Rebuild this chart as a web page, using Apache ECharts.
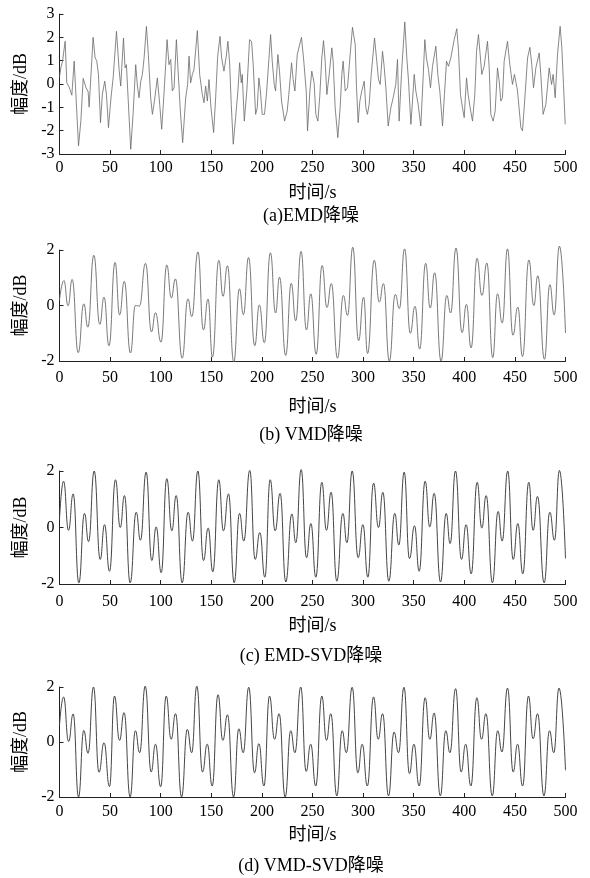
<!DOCTYPE html>
<html>
<head>
<meta charset="utf-8">
<script src="https://cdn.jsdelivr.net/npm/echarts@6/dist/echarts.min.js"></script>
<style>html,body{margin:0;padding:0;background:#fff}#c{width:590px;height:878px}</style>
</head>
<body>
<div id="c"></div>
<script>
// ---- data ----
const xTicks = [0, 50, 100, 150, 200, 250, 300, 350, 400, 450, 500];

// (a) EMD denoising (noisy trace)
const tA = [0,1.3,3,5.6,7.2,9.5,11.2,12.2,14.5,18.8,21.1,23.4,26,28.3,29.3,33.2,35.2,36.8,38.5,40.5,42.4,44.7,46.4,48.4,50,51.3,53,56.3,58.9,60.5,63.2,64.8,66.1,70.4,72.7,75.3,77,78.6,80.3,81.9,83.6,85.9,87.8,90.1,91.8,93.8,96.7,99,101,103,104.9,106.3,108.2,109.9,111.5,113.2,115.5,117.4,119.4,121.7,123.4,124.7,126.6,128,129.6,131.3,132.9,136.2,138.5,141.1,142.8,144.4,146.1,147.7,149.7,152.3,154.3,156.3,158.6,160.2,162.5,164.8,166.4,168.1,169.7,171.7,174,176.3,178,179.6,180.6,182.6,185.2,187.8,189.8,191.4,193.8,195.4,197,198.4,200.3,202.6,204.6,206.9,208.6,210.2,212.2,213.5,215.8,217.4,219.4,222.4,225,226.6,229.3,230.9,232.6,234.9,239.1,241.4,243.8,245.1,247.4,249.3,251.6,253.3,255.3,257.2,259.2,260.9,262.5,264.2,266.5,269.1,270.4,272.4,275,277.3,279,280.3,282.3,284.6,287.2,289.5,292.2,293.5,295.1,296.8,298.7,301.1,302.7,304.3,306,308,311.3,313.2,315.2,316.9,319.2,320.8,322.5,324.8,327.4,329.7,332.3,334,335.6,337.9,341.2,343.2,344.9,347.2,348.8,350.5,352.1,354.4,357,358.7,361,362.6,364.6,366.6,368.6,371.9,373.8,375.8,378.5,380.4,382.4,384.4,386.7,390,392.6,394.3,396.2,398.2,399.9,402.2,403.8,405.8,408.1,410.4,412.1,414,415.4,417.3,419.6,422.9,424.6,426.2,428.5,430.5,432.8,434.5,436.1,437.7,439.4,442.7,445,447.6,449.6,452.6,455.9,457.5,460.1,462.5,464.8,466.7,468.4,470.7,474,475.6,477.9,480.6,483.9,486.2,487.8,489.8,492.1,494.7,496.4,498,499.7];
const yA = [0.3,0.69,0.98,1.83,0.05,-0.13,-0.16,-0.48,0.98,-2.65,-1.59,0.24,-0.13,-0.33,-0.99,2.0,1.12,1.0,0.41,-1.66,-0.42,0.12,-0.45,-1.87,-1.02,-0.42,0.26,2.26,0.62,-0.09,1.97,0.69,0.83,-2.8,-1.3,0.83,-0.09,-0.59,0.12,0.41,1.12,2.47,1.26,-0.59,-1.3,-0.73,0.26,-0.87,-1.94,-0.59,0.83,1.9,0.83,1.05,-0.3,-0.16,1.9,0.41,-1.16,-2.51,-1.44,-0.59,-0.02,1.19,0.05,0.41,0.62,2.29,0.41,-0.45,-0.8,-0.09,-0.73,0.19,-1.02,-2.08,-0.59,1.19,2.04,1.12,0.55,1.19,1.83,0.91,-0.87,-2.58,-1.44,-0.3,0.91,0.05,0.41,-1.59,-0.23,1.9,1.83,0.83,-1.3,-1.02,0.26,-0.23,-1.3,-1.3,-0.38,1.05,2.12,0.98,-0.02,-0.3,1.26,0.55,-0.73,-1.59,-1.16,-0.45,0.91,0.19,-0.3,1.26,2.0,0.98,-0.3,-2.01,-0.3,0.55,0.05,-1.3,-1.59,-0.52,1.12,1.86,0.98,-0.45,0.41,1.55,0.98,-1.02,-2.3,-1.02,0.41,0.98,-0.3,-0.16,1.26,2.43,1.69,-0.16,-1.66,-0.73,-0.3,0.12,-1.02,-1.3,-0.87,0.41,1.97,1.12,0.19,-0.02,1.4,0.76,-0.16,-1.8,-1.02,-0.59,-0.02,1.05,-1.59,0.41,2.66,1.12,0.12,-1.73,-0.73,0.41,-0.3,-0.87,-1.8,-0.3,1.9,1.12,0.62,-0.16,0.76,1.62,0.41,-0.3,-1.8,-0.45,0.98,0.76,1.12,1.9,2.37,1.4,-0.45,-1.02,-1.44,0.26,-0.45,-1.02,-1.59,-0.45,1.4,2.12,1.4,0.41,0.76,1.83,0.69,-1.3,-1.59,-1.16,0.69,0.12,-0.73,-0.59,0.98,1.83,0.83,-0.02,0.41,-0.3,-1.87,-2.01,-0.45,1.12,1.57,0.83,-0.16,0.69,1.33,0.41,-1.3,-0.87,0.69,-0.02,0.41,-0.59,1.26,2.47,1.55,-0.02,-1.73];

// (b) VMD denoising (turning points)
const tB = [0,4.3,8.5,12.5,18.5,24,28,33.9,39.8,44,48.9,54.9,59.4,64,70.1,75,79,85,90.9,94.8,100.3,106,110.5,114.5,121.2,126.9,130.7,136.8,142.2,146.8,151.1,157.4,161.6,165.9,172.2,177.8,181.7,186.8,192.9,197.5,202.4,208.4,213.5,217.4,223.5,229,233.4,238.7,244,248.3,253.6,259.5,264.3,268.6,274.7,280.5,284.6,289.8,295.5,300.5,304.4,311,316,320.1,325.9,331.8,335.8,341,346.6,351.3,355.9,361.8,366.3,370.7,377,382.7,386.5,391.8,397.8,402.1,406.7,412.6,417.4,422.3,428.1,432.8,437.5,442.7,448,452.9,457.5,463.8,468.7,472.6,479.2,484.5,488.8,494,500];
const yB = [0.2,0.9,-0.01,0.94,-1.7,0.06,-0.78,1.81,-0.68,0.3,-1.45,1.55,-0.34,0.87,-1.71,0.0,-0.02,1.52,-0.95,-0.26,-1.32,1.46,0.27,0.96,-1.9,0.24,-0.4,1.93,-0.88,0.23,-1.86,1.63,0.33,1.43,-2.03,0.6,-0.33,1.73,-1.45,0.02,-1.34,1.9,-0.27,1.02,-1.8,0.8,-0.55,1.95,-0.88,0.42,-1.76,1.44,-0.07,0.79,-1.9,0.36,-0.36,2.1,-1.27,0.3,-1.73,1.63,0.12,0.79,-2.0,0.4,-0.11,2.04,-1.0,-0.03,-1.57,1.52,-0.09,1.18,-2.0,0.36,-0.27,2.07,-0.98,0.04,-1.53,1.7,0.36,1.53,-1.88,0.42,-0.63,2.04,-1.07,-0.06,-1.84,1.64,0,1.07,-1.94,0.75,-0.34,2.14,-0.99];

// (c) EMD-SVD denoising (turning points)
const tC = [0,4,8.9,13.5,19.1,24.7,28.7,34.3,40.2,44.5,49.4,55.3,60,64.2,69.8,75.8,80,85.6,91.2,95.5,100.5,106,111,115.3,121.2,127.1,131.4,136.7,142.3,146.9,151.5,157.4,162,167,172.6,177.9,182.1,188,193.3,198,202.9,208.2,213.1,218,223.6,229.6,233.5,238.8,244.1,248.4,253.3,259.2,263.8,268.4,274,280,284,289.2,295.1,299.8,304.7,310.3,315.2,319.5,325.4,331.3,335.3,340.6,345.8,350.8,355.4,361.3,365.9,370.2,376.5,382.1,386,391.3,397.2,401.8,406.8,412.7,417.3,421.6,427.8,433.4,437.4,442.9,448.3,452.9,457.8,463.7,468,472.3,478.9,484.5,489.1,494,500];
const yC = [0.3,1.64,-0.1,1.19,-1.96,0.5,-0.5,2.0,-1.13,0.1,-1.55,1.69,0,1.13,-1.96,0.54,-0.45,1.96,-1.17,0.02,-1.6,1.73,-0.12,1.13,-1.96,0.54,-0.48,2.0,-1.17,-0.02,-1.57,1.69,-0.12,1.19,-1.96,0.5,-0.48,2.02,-1.13,-0.18,-1.76,1.69,-0.12,1.21,-1.93,0.48,-0.54,2.05,-1.07,0.14,-1.76,1.6,-0.1,1.25,-1.9,0.5,-0.54,2.0,-1.07,0.1,-1.76,1.57,0,1.25,-1.9,0.5,-0.62,1.96,-1.1,0.06,-1.55,1.64,0.02,1.21,-1.93,0.5,-0.57,2.0,-1.13,0.1,-1.64,1.6,-0.02,1.13,-1.96,0.57,-0.48,2.0,-1.13,0.14,-1.64,1.6,-0.1,1.1,-1.96,0.54,-0.45,2.02,-1.1];

// (d) VMD-SVD denoising (turning points)
const tD = [0,4,9,13.5,18.8,24,28.2,33.6,39,44,49.4,54.3,59.3,63.8,69.8,75,79.2,84.7,90.6,94.8,100,105.4,110.3,114.7,120.6,126.3,130.6,135.7,141.3,146,150.9,156.6,161.4,166,172,177.2,181.5,187,192.7,197,202,207.5,212.5,217,223,228.5,232.6,238.4,243.7,248.2,253.2,259.2,263.8,268.1,274,279.3,283.4,289.2,294.8,299.1,304.2,310.3,314.9,319.3,325.1,330.6,335,340.4,345.8,350.2,355.4,361.3,365.9,370.2,376.3,381.7,385.8,391.4,396.9,401.3,406.5,412.4,417,421.4,427.6,433,437.2,442.7,448.3,452.6,457.6,463.4,468,472.4,478.7,484.2,488.4,493.6,500];
const yD = [0.6,1.64,0.02,1.02,-2.0,0.42,-0.41,2.0,-1.1,-0.03,-1.62,1.67,0.06,1.07,-2.0,0.41,-0.39,2.03,-1.09,-0.08,-1.63,1.67,0.1,1.03,-2.0,0.46,-0.39,2.03,-1.09,-0.08,-1.6,1.72,0.06,0.99,-2.0,0.48,-0.39,1.99,-1.12,-0.06,-1.6,1.67,0.1,1.03,-2.0,0.41,-0.39,2.0,-1.07,-0.08,-1.6,1.67,0.06,1.03,-1.96,0.41,-0.39,1.99,-1.12,-0.08,-1.6,1.64,0.1,1.03,-1.96,0.36,-0.39,1.99,-1.15,-0.08,-1.6,1.61,0.1,1.05,-1.96,0.41,-0.39,1.94,-1.09,-0.08,-1.6,1.61,0.1,1.03,-1.96,0.41,-0.36,1.96,-1.09,-0.08,-1.6,1.67,0.12,1.03,-1.96,0.41,-0.39,1.96,-1.03];

const captions = ['(a)EMD降噪', '(b) VMD降噪', '(c) EMD-SVD降噪', '(d) VMD-SVD降噪'];
const xName = '时间/s';
const yName = '幅度/dB';

// ---- layout / style ----
const FONT = "'Liberation Serif', 'Noto Sans CJK SC', serif";
const panels = [
  {t: tA, y: yA, top: 14, h: 140, min: -3, max: 3, iv: 1, lm: 6, ng: 30, cap: 216, smooth: false, color: '#6a6a6a', w: 0.8},
  {t: tB, y: yB, top: 250, h: 111, min: -2, max: 2, iv: 2, lm: 9, ng: 37, cap: 435, smooth: 0.5, color: '#6a6a6a', w: 0.9},
  {t: tC, y: yC, top: 471, h: 113, min: -2, max: 2, iv: 2, lm: 9.5, ng: 33, cap: 656, smooth: 0.5, color: '#454545', w: 1},
  {t: tD, y: yD, top: 687, h: 110, min: -2, max: 2, iv: 2, lm: 7, ng: 29, cap: 866, smooth: 0.5, color: '#454545', w: 1}
];

const grid = [], xAxis = [], yAxis = [], series = [], graphic = [];
panels.forEach((p, i) => {
  grid.push({left: 59.5, width: 506, top: p.top, height: p.h});
  xAxis.push({
    type: 'value', gridIndex: i, min: xTicks[0], max: xTicks[xTicks.length - 1], interval: xTicks[1] - xTicks[0],
    axisLine: {show: true, onZero: false, lineStyle: {color: '#222', width: 1}},
    axisTick: {show: true, inside: true, length: 4, lineStyle: {color: '#222'}},
    axisLabel: {color: '#000', fontSize: 16, fontFamily: FONT, margin: p.lm},
    splitLine: {show: false},
    name: xName, nameLocation: 'middle', nameGap: p.ng,
    nameTextStyle: {color: '#000', fontSize: 18, fontFamily: FONT}
  });
  yAxis.push({
    type: 'value', gridIndex: i, min: p.min, max: p.max, interval: p.iv,
    axisLine: {show: true, onZero: false, lineStyle: {color: '#222', width: 1}},
    axisTick: {show: true, inside: true, length: 4, lineStyle: {color: '#222'}},
    axisLabel: {color: '#000', fontSize: 16, fontFamily: FONT, margin: 5},
    splitLine: {show: false},
    name: yName, nameLocation: 'middle', nameGap: 27, nameRotate: 90,
    nameTextStyle: {color: '#000', fontSize: 18, fontFamily: FONT}
  });
  series.push({
    type: 'line', xAxisIndex: i, yAxisIndex: i,
    data: p.t.map((t, k) => [t, p.y[k]]),
    showSymbol: false, symbol: 'none', smooth: p.smooth, smoothMonotone: 'x', clip: false,
    lineStyle: {color: p.color, width: p.w}
  });
  graphic.push({
    type: 'text', x: 311, y: p.cap,
    style: {text: captions[i], fill: '#000', font: "18px 'Liberation Serif', 'Noto Sans CJK SC', serif", textAlign: 'center', textVerticalAlign: 'middle'}
  });
});

const chart = echarts.init(document.getElementById('c'), null, {renderer: 'canvas'});
chart.setOption({animation: false, backgroundColor: '#fff', grid, xAxis, yAxis, series, graphic});
</script>
</body>
</html>
